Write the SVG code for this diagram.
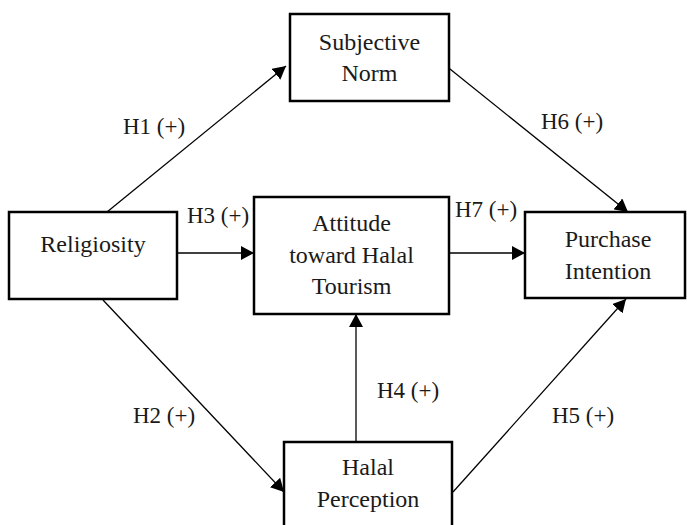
<svg xmlns="http://www.w3.org/2000/svg" width="687" height="525" viewBox="0 0 687 525">
<style>
.box{fill:#fff;stroke:#000;stroke-width:2.5}
.nt{font-family:"Liberation Serif","Times New Roman",serif;font-size:24px;fill:#1a1a1a;text-anchor:middle}
.lb{font-family:"Liberation Serif","Times New Roman",serif;font-size:23px;fill:#1a1a1a}
.cn{stroke:#000;stroke-width:1.3;fill:none;marker-end:url(#ah)}
</style>
<defs>
<marker id="ah" viewBox="0 0 13 14" refX="13" refY="7" markerWidth="13" markerHeight="14" markerUnits="userSpaceOnUse" orient="auto">
<path d="M0,0 L13,7 L0,14 z" fill="#000"/>
</marker>
</defs>
<rect width="687" height="525" fill="#fff"/>
<g id="connectors">
<line class="cn" x1="107" y1="212" x2="286" y2="66"/>
<line class="cn" x1="445" y1="65" x2="628" y2="212"/>
<line class="cn" x1="177" y1="253" x2="254" y2="253"/>
<line class="cn" x1="449" y1="253" x2="525" y2="253"/>
<line class="cn" x1="103" y1="300" x2="284" y2="492"/>
<line class="cn" x1="356" y1="441" x2="356" y2="314"/>
<line class="cn" x1="453" y1="492" x2="626" y2="299"/>
</g>
<g id="labels">
<text class="lb" x="123" y="134">H1 (+)</text>
<text class="lb" x="187" y="223">H3 (+)</text>
<text class="lb" x="541" y="129">H6 (+)</text>
<text class="lb" x="455" y="217">H7 (+)</text>
<text class="lb" x="133" y="423">H2 (+)</text>
<text class="lb" x="377" y="398">H4 (+)</text>
<text class="lb" x="552" y="423">H5 (+)</text>
</g>
<g id="subjective-norm">
<rect class="box" x="290" y="14" width="159" height="87"/>
<text class="nt" x="369.5" y="50">Subjective</text>
<text class="nt" x="369.5" y="81">Norm</text>
</g>
<g id="religiosity">
<rect class="box" x="9" y="212" width="168" height="87"/>
<text class="nt" x="93" y="252">Religiosity</text>
</g>
<g id="attitude">
<rect class="box" x="254" y="197" width="195" height="117"/>
<text class="nt" x="351.5" y="231">Attitude</text>
<text class="nt" x="351.5" y="263">toward Halal</text>
<text class="nt" x="351.5" y="294">Tourism</text>
</g>
<g id="purchase-intention">
<rect class="box" x="525" y="212" width="160" height="86"/>
<text class="nt" x="608" y="247">Purchase</text>
<text class="nt" x="608" y="279">Intention</text>
</g>
<g id="halal-perception">
<rect class="box" x="284" y="442" width="168" height="95"/>
<text class="nt" x="368" y="475">Halal</text>
<text class="nt" x="368" y="507">Perception</text>
</g>
</svg>
